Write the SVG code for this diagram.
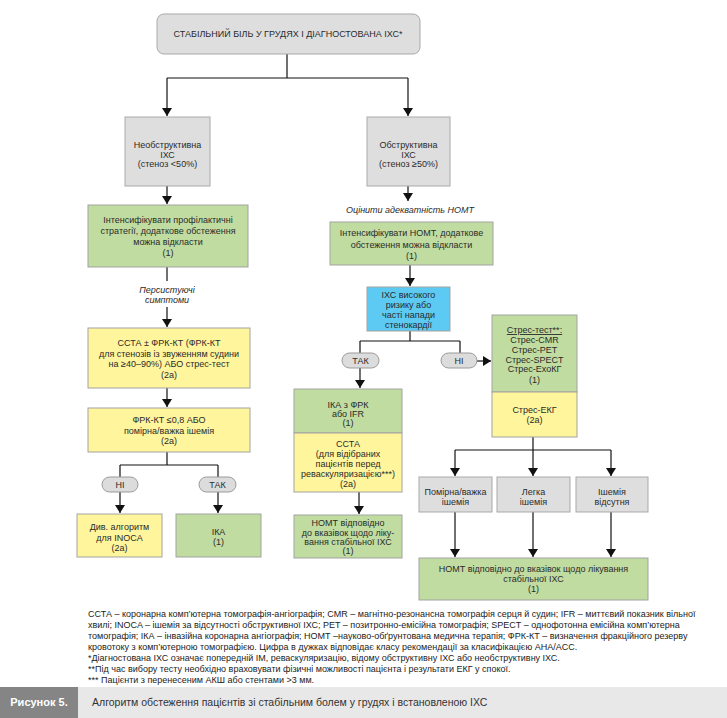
<svg xmlns="http://www.w3.org/2000/svg" width="727" height="718" viewBox="0 0 727 718">
<defs>
<marker id="ah" viewBox="0 0 8 10" refX="8" refY="5" markerWidth="8" markerHeight="10" markerUnits="userSpaceOnUse" orient="auto">
<path d="M0,0 L8,5 L0,10 Z" fill="#111"/>
</marker>
<style>
text{font-family:"Liberation Sans",Arial,sans-serif;font-size:9px;fill:#2b2b2b;text-anchor:middle}
.gray{fill:#dedede;stroke:#a9a9a9;stroke-width:1}
.green{fill:#c0dca0;stroke:#a3a3a3;stroke-width:1}
.yellow{fill:#fff59c;stroke:#a3a3a3;stroke-width:1}
.blue{fill:#5ccaf2;stroke:#a3a3a3;stroke-width:1}
.pill{fill:#dcdcdc;stroke:#9a9a9a;stroke-width:1}
.it{font-style:italic}
.ln{fill:none;stroke:#111;stroke-width:1.2}
.ar{fill:none;stroke:#111;stroke-width:1.2;marker-end:url(#ah)}
.fn{text-anchor:start;font-size:9px;fill:#222}
</style>
</defs>
<rect width="727" height="718" fill="#ffffff"/>

<g id="connectors">
<path class="ln" d="M287,54 V78 M167,78 H408"/>
<path class="ar" d="M167,78 V116"/>
<path class="ar" d="M408,78 V116"/>
<path class="ar" d="M167,186 V204"/>
<path class="ln" d="M167,267 V281"/>
<path class="ar" d="M167,307 V327"/>
<path class="ar" d="M167,388 V407"/>
<path class="ln" d="M167,452 V465 M120,465 H218 M120,465 V477 M218,465 V477"/>
<path class="ar" d="M120,492 V513"/>
<path class="ar" d="M218,492 V513"/>
<path class="ar" d="M408,186 V201"/>
<path class="ar" d="M410,265 V286"/>
<path class="ln" d="M410,331 V341 M360,341 H460 M360,341 V353 M460,341 V353"/>
<path class="ar" d="M477,361 H491"/>
<path class="ar" d="M360,368 V388"/>
<path class="ar" d="M359,492 V514"/>
<path class="ln" d="M533,437 V450 M455,450 H611"/>
<path class="ar" d="M455,450 V476"/>
<path class="ar" d="M533,450 V476"/>
<path class="ar" d="M611,450 V476"/>
<path class="ar" d="M455,512 V557"/>
<path class="ar" d="M533,512 V557"/>
<path class="ar" d="M611,512 V557"/>
</g>

<g id="n-top">
<rect class="gray" x="157" y="14" width="263" height="40" rx="7"/>
<text x="288" y="37">СТАБІЛЬНИЙ БІЛЬ У ГРУДЯХ І ДІАГНОСТОВАНА ІХС*</text>
</g>

<g id="n-nonobst">
<rect class="gray" x="125" y="117" width="85" height="69"/>
<text x="167.5" y="148">Необструктивна</text>
<text x="167.5" y="157.5">ІХС</text>
<text x="167.5" y="167">(стеноз &lt;50%)</text>
</g>

<g id="n-obst">
<rect class="gray" x="367" y="117" width="83" height="69"/>
<text x="408.5" y="148">Обструктивна</text>
<text x="408.5" y="157.5">ІХС</text>
<text x="408.5" y="167">(стеноз ≥50%)</text>
</g>

<g id="n-prev">
<rect class="green" x="88" y="205" width="160" height="62"/>
<text x="168" y="223">Інтенсифікувати профілактичні</text>
<text x="168" y="234">стратегії, додаткове обстеження</text>
<text x="168" y="245">можна відкласти</text>
<text x="168" y="256">(1)</text>
</g>

<g id="l-persist">
<text class="it" x="167" y="293">Персистуючі</text>
<text class="it" x="167" y="303">симптоми</text>
</g>

<g id="n-ccta">
<rect class="yellow" x="88" y="328" width="162" height="60"/>
<text x="169" y="346">ССТА ± ФРК-КТ (ФРК-КТ</text>
<text x="169" y="357">для стенозів із звуженням судини</text>
<text x="169" y="367">на ≥40–90%) АБО стрес-тест</text>
<text x="169" y="378">(2а)</text>
</g>

<g id="n-frk">
<rect class="yellow" x="88" y="408" width="162" height="44"/>
<text x="169" y="423">ФРК-КТ ≤0,8 АБО</text>
<text x="169" y="433.5">помірна/важка ішемія</text>
<text x="169" y="444">(2а)</text>
</g>

<g id="p-ni-left">
<rect class="pill" x="102" y="477" width="36" height="15" rx="7.5"/>
<text x="120" y="488">НІ</text>
</g>
<g id="p-tak-left">
<rect class="pill" x="199" y="477" width="37" height="15" rx="7.5"/>
<text x="217.5" y="488">ТАК</text>
</g>

<g id="n-inoca">
<rect class="yellow" x="77" y="514" width="85" height="43"/>
<text x="119.5" y="530">Див. алгоритм</text>
<text x="119.5" y="541">для INOCA</text>
<text x="119.5" y="551">(2а)</text>
</g>

<g id="n-ika-left">
<rect class="green" x="176" y="514" width="85" height="43"/>
<text x="218.5" y="535">ІКА</text>
<text x="218.5" y="545">(1)</text>
</g>

<g id="l-assess">
<text class="it" x="410" y="213">Оцінити адекватність НОМТ</text>
</g>

<g id="n-homt1">
<rect class="green" x="330" y="222" width="163" height="43"/>
<text x="411.5" y="236">Інтенсифікувати НОМТ, додаткове</text>
<text x="411.5" y="248">обстеження можна відкласти</text>
<text x="411.5" y="259">(1)</text>
</g>

<g id="n-highrisk">
<rect class="blue" x="367" y="287" width="83" height="44"/>
<text x="408.5" y="298">ІХС високого</text>
<text x="408.5" y="308">ризику або</text>
<text x="408.5" y="318">часті напади</text>
<text x="408.5" y="328">стенокардії</text>
</g>

<g id="p-tak-right">
<rect class="pill" x="342" y="353" width="37" height="15" rx="7.5"/>
<text x="360.5" y="364">ТАК</text>
</g>
<g id="p-ni-right">
<rect class="pill" x="441" y="353" width="36" height="15" rx="7.5"/>
<text x="459" y="364">НІ</text>
</g>

<g id="n-stress">
<rect class="green" x="492" y="315" width="85" height="77"/>
<rect class="yellow" x="492" y="392" width="85" height="45"/>
<text x="534.5" y="333" text-decoration="underline">Стрес-тест**:</text>
<text x="534.5" y="343">Стрес-CMR</text>
<text x="534.5" y="353">Стрес-PET</text>
<text x="534.5" y="362.5">Стрес-SPECT</text>
<text x="534.5" y="372">Стрес-ЕхоКГ</text>
<text x="534.5" y="383">(1)</text>
<text x="534.5" y="413">Стрес-ЕКГ</text>
<text x="534.5" y="423">(2а)</text>
</g>

<g id="n-ika-ffr">
<rect class="green" x="294" y="389" width="108" height="44"/>
<rect class="yellow" x="294" y="433" width="108" height="59"/>
<text x="348" y="408">ІКА з ФРК</text>
<text x="348" y="417">або IFR</text>
<text x="348" y="426">(1)</text>
<text x="348" y="447">ССТА</text>
<text x="348" y="457">(для відібраних</text>
<text x="348" y="467">пацієнтів перед</text>
<text x="348" y="477">реваскуляризацією***)</text>
<text x="348" y="487">(2а)</text>
</g>

<g id="n-homt-mid">
<rect class="green" x="294" y="515" width="108" height="43"/>
<text x="348" y="526">НОМТ відповідно</text>
<text x="348" y="535.5">до вказівок щодо ліку-</text>
<text x="348" y="545">вання стабільної ІХС</text>
<text x="348" y="554">(1)</text>
</g>

<g id="n-isch1">
<rect class="gray" x="419" y="477" width="73" height="35"/>
<text x="455.5" y="495">Помірна/важка</text>
<text x="455.5" y="504.5">ішемія</text>
</g>
<g id="n-isch2">
<rect class="gray" x="497" y="477" width="73" height="35"/>
<text x="533.5" y="495">Легка</text>
<text x="533.5" y="504.5">ішемія</text>
</g>
<g id="n-isch3">
<rect class="gray" x="576" y="477" width="72" height="35"/>
<text x="612" y="495">Ішемія</text>
<text x="612" y="504.5">відсутня</text>
</g>

<g id="n-homt-final">
<rect class="green" x="419" y="558" width="229" height="42"/>
<text x="533.5" y="572">НОМТ відповідно до вказівок щодо лікування</text>
<text x="533.5" y="582">стабільної ІХС</text>
<text x="533.5" y="592">(1)</text>
</g>

<g id="footnotes">
<text class="fn" x="88" y="617">ССТА – коронарна комп’ютерна томографія-ангіографія; CMR – магнітно-резонансна томографія серця й судин; IFR – миттєвий показник вільної</text>
<text class="fn" x="88" y="628">хвилі; INOCA – ішемія за відсутності обструктивної ІХС; PET – позитронно-емісійна томографія; SPECT – однофотонна емісійна комп’ютерна</text>
<text class="fn" x="88" y="639">томографія; ІКА – інвазійна коронарна ангіографія; НОМТ –науково-обґрунтована медична терапія; ФРК-КТ – визначення фракційного резерву</text>
<text class="fn" x="88" y="650">кровотоку з комп’ютерною томографією. Цифра в дужках відповідає класу рекомендації за класифікацією AHA/ACC.</text>
<text class="fn" x="88" y="661">*Діагностована ІХС означає попередній ІМ, реваскуляризацію, відому обструктивну ІХС або необструктивну ІХС.</text>
<text class="fn" x="88" y="672">**Під час вибору тесту необхідно враховувати фізичні можливості пацієнта і результати ЕКГ у спокої.</text>
<text class="fn" x="88" y="683">*** Пацієнти з перенесеним АКШ або стентами &gt;3 мм.</text>
</g>

<g id="caption">
<rect x="0" y="687" width="78" height="31" fill="#858585"/>
<rect x="78" y="687" width="649" height="31" fill="#e8e8e8"/>
<text x="39" y="706" style="font-size:11px;font-weight:bold;fill:#ffffff">Рисунок 5.</text>
<text x="92" y="706" style="font-size:10.5px;text-anchor:start;fill:#333333">Алгоритм обстеження пацієнтів зі стабільним болем у грудях і встановленою ІХС</text>
</g>
</svg>
